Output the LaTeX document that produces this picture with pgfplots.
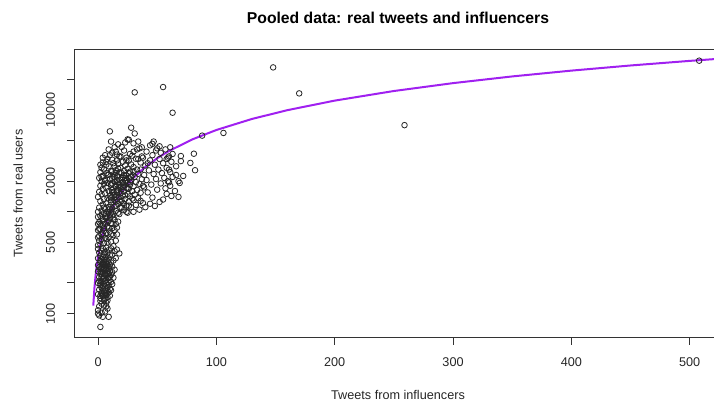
\documentclass[border=0pt]{standalone}
\usepackage{fontspec}
\setmainfont{Liberation Sans}
\usepackage{pgfplots}
\pgfplotsset{compat=1.18}
\definecolor{rpurple}{HTML}{A020F0}
\definecolor{axgray}{HTML}{333333}
\begin{document}
\begin{tikzpicture}
\useasboundingbox (0,0) rectangle (535.5pt,303.75pt);
\begin{axis}[
  at={(55.5pt,50.475pt)}, anchor=south west,
  scale only axis, width=486pt, height=216.3pt,
  xmin=-20.3, xmax=527.3,
  ymode=log, ymin=58, ymax=39450,
  axis line style={axgray, line width=0.75pt},
  tick style={axgray, line width=0.75pt},
  tick align=outside, major tick length=5.25pt,
  xtick={0,100,200,300,400,500},
  xticklabels={0,100,200,300,400,500},
  ytick={100,200,500,1000,2000,5000,10000,20000},
  yticklabels={100,,500,,2000,,10000,},
  yminorticks=false, xminorticks=false,
  xtick pos=bottom, ytick pos=left,
  ticklabel style={font=\fontsize{9.5}{11}\selectfont, text=black!85},
  xticklabel shift=6.5pt,
  yticklabel shift=5.5pt,
  yticklabel style={rotate=90, anchor=south},
  title={Pooled data: real tweets and influencers},
  title style={font=\fontsize{11.8}{14}\bfseries, at={(axis description cs:0.5,1.0808)}, anchor=center},
  xlabel={Tweets from influencers},
  xlabel style={font=\fontsize{9.5}{11}\selectfont, text=black!85, at={(axis description cs:0.5,-0.1987)}, anchor=center},
  ylabel={Tweets from real users},
  ylabel style={font=\fontsize{9.5}{11}\selectfont, text=black!85, at={(axis description cs:-0.0864,0.5)}, anchor=center, rotate=0},
]
\addplot[only marks, mark=o, mark size=2.1pt, mark options={line width=0.6pt, draw=black!85}] coordinates {
(2,74) (4,93) (9,93) (0,108) (1,118) (3,125) (5,120) (7,118) (2,133) (6,140) (4,150) (8,145) (3,160) (5,165) (7,158) (9,162) (1,172) (4,178) (6,185) (8,180) (10,175) (2,190) (5,195) (7,200) (9,192) (3,205) (6,210) (11,205) (4,218) (8,222) (1,228) (5,232) (7,238) (10,230) (2,245) (6,250) (9,248) (3,258) (4,265) (8,262) (12,255) (5,275) (7,280) (1,285) (6,292) (9,288) (3,300) (10,298) (4,305) (7,312) (2,318) (5,322) (8,326) (11,318) (6,335) (3,342) (9,340) (13,332) (0,350) (4,358) (7,362) (2,370) (10,375) (5,382) (8,390) (12,380) (1,398) (6,405) (3,415) (9,420) (14,410) (0,432) (4,440) (7,445) (11,438) (16,425) (18,390) (13,460)
(0,100) (1,96) (3,102) (6,105) (8,112) (5,135) (2,142) (0,155) (7,128) (10,150) (11,170) (12,195) (13,225) (12,290) (14,270) (15,350) (0,200) (0,260) (1,210) (2,275) (0,300)
(0,470) (2,480) (5,490) (8,500) (11,510) (15,520) (3,540) (6,555) (9,560) (1,580) (13,590) (4,610) (7,620) (10,640) (0,660) (2,680) (12,690) (5,700) (8,720) (16,700) (3,740) (6,760) (11,775) (1,790) (9,810) (14,830) (4,850) (7,870) (0,890) (2,910) (10,930) (13,950) (5,970) (8,1000) (17,980) (3,1030) (6,1060) (12,1080) (1,1100) (9,1120) (15,1150) (4,1180) (7,1210) (11,1240) (2,1270) (14,1300) (5,1330) (8,1360) (0,1400) (10,1420) (13,1450) (3,1490) (6,1520) (16,1540) (1,1570) (9,1600) (12,1640) (4,1680) (7,1720) (15,1760) (2,1800) (11,1840) (5,1880) (8,1920) (14,1960) (3,2000) (6,2050) (10,2100) (1,2150) (13,2200) (4,2260) (9,2320) (7,2400) (2,2450) (12,2500)
(12,920) (18,950) (25,980) (30,1000) (15,1020) (22,1040) (35,1050) (10,1070) (19,1090) (28,1110) (14,1130) (24,1150) (32,1170) (17,1190) (21,1210) (38,1220) (13,1240) (26,1260) (20,1280) (30,1300) (16,1320) (23,1340) (34,1360) (11,1380) (18,1400) (27,1420) (21,1440) (14,1460) (31,1480) (25,1500) (19,1520) (36,1540) (12,1560) (22,1580) (29,1600) (16,1620) (33,1640) (20,1660) (26,1680) (13,1700) (24,1720) (39,1740) (18,1760) (30,1780) (15,1800) (22,1820) (27,1840) (11,1860) (35,1880) (20,1900) (25,1920) (17,1940) (32,1960) (14,1980) (23,2000) (28,2030) (19,2060) (37,2090) (12,2120) (26,2150) (21,2180) (31,2210) (16,2240) (24,2270) (29,2300) (13,2330) (34,2360) (20,2400) (18,2440) (27,2480) (22,2520) (15,2560) (33,2600) (25,2650) (19,2700) (30,2750) (14,2800) (23,2860) (28,2920) (17,2980) (36,3050) (21,3100) (26,3180) (12,3250) (32,3320) (24,3400) (18,3480) (29,3560) (16,3650)
(40,1110) (48,1140) (55,1320) (62,1430) (44,1200) (52,1250) (58,1500) (36,1280) (46,1380) (65,1600) (42,1550) (50,1650) (57,1700) (38,1800) (45,1850) (53,1900) (60,1950) (68,2000) (41,2050) (49,2100) (56,2150) (63,2200) (72,2250) (39,2300) (47,2350) (54,2400) (61,2450) (82,2560) (43,2550) (51,2600) (58,2700) (66,2800) (40,2850) (48,2900) (55,3000) (78,3020) (62,3100) (70,3150) (44,3200) (52,3300) (59,3400) (60,3500) (37,3500) (46,3600) (81,3720) (53,3800) (41,3900) (49,4000) (57,4100) (63,3700) (35,4200) (44,4500) (37,4300) (52,4400) (30,4700) (34,4900) (46,4650) (88,5600) (106,5950) (60,2600) (59,2000) (61,1800) (58,3300)
(70,3530) (66,2300) (69,1920) (68,1400) (47,4900) (61,4300) (50,4200)
(6,3600) (9,4100) (12,3800) (15,3900) (20,4330) (17,4600) (25,5140) (26,5100) (28,6700) (31,5880) (10,6170) (14,4300) (22,4000) (8,3300) (4,3050) (19,3500) (27,3700) (30,3900) (33,4100) (11,4900) (23,4800) (24,3200) (7,2900) (3,2700) (13,3000) (16,3200) (34,3300) (38,3400) (42,3000) (36,2600)
(148,26200) (55,16800) (31,14900) (170,14560) (63,9400) (259,7100) (508,30500)
(2,150) (3,155) (5,148) (7,152) (8,168) (6,170) (4,188) (2,198) (9,205) (7,215) (5,220) (3,228) (6,240) (8,245) (4,252) (2,260) (7,268) (5,272) (3,282) (9,278) (6,300) (8,305) (4,315) (2,330) (7,340) (5,308) (10,260) (11,240) (6,158) (8,135) (3,180) (9,225)
(1,520) (3,600) (5,650) (7,540) (9,690) (11,600) (2,760) (4,820) (6,900) (8,800) (10,860) (12,760) (0,560) (0,760) (0,1000) (1,680) (3,880) (5,1100) (7,950) (9,1050) (11,990) (13,880) (14,660) (15,760) (16,600) (17,800)
(11,1300) (13,1550) (15,1400) (17,1650) (19,1250) (21,1750) (23,1450) (25,1700) (27,1950) (29,1350) (12,1900) (14,2200) (16,2050) (18,1850) (20,2150) (22,2300) (24,2050) (26,2400) (28,2200) (30,2500) (16,1450) (19,1750) (21,1950) (23,2150) (15,2400) (17,2650) (20,1100) (22,1200) (24,1000) (26,1150)
(3,2200) (5,2600) (7,3100) (9,2800) (11,2500) (4,3400) (8,2300) (10,3600) (6,2000) (2,2900)
};
\addplot[rpurple, line width=1.5pt] coordinates {
(-4,120) (-3,180) (-2,240) (-1,300) (0,360) (1,420) (2,480) (3,540) (4,600) (5,660) (6,720) (8,840) (10,960) (12,1080) (15,1260) (20,1560) (25,1860) (30,2160) (40,2760) (50,3360) (60,3960) (80,5160) (100,6360) (130,8160) (160,9960) (200,12360) (250,15360) (300,18360) (350,21360) (400,24360) (450,27360) (500,30360) (527,31980)
};
\end{axis}
\end{tikzpicture}
\end{document}
